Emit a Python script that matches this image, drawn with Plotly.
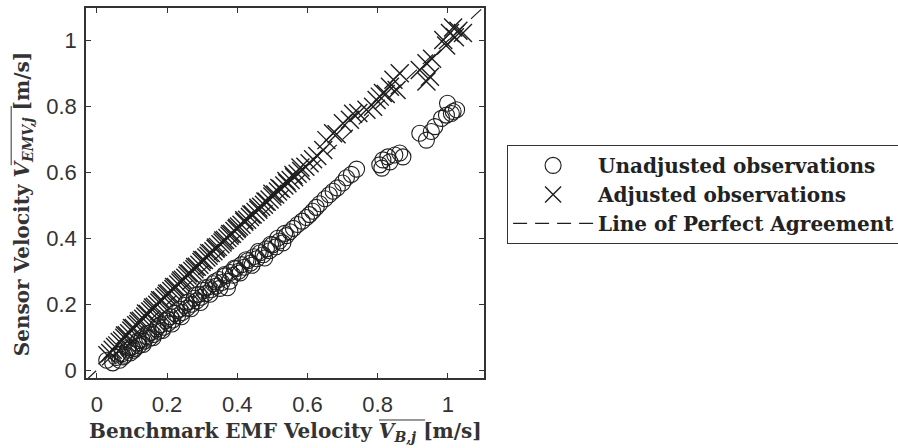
import plotly.graph_objects as go

# ---------------- data ----------------
unadj_x = [0.028, 0.045, 0.055, 0.065, 0.072, 0.080, 0.088, 0.095, 0.100, 0.108,
           0.115, 0.120, 0.128, 0.135, 0.142, 0.150, 0.155, 0.162, 0.170, 0.176,
           0.182, 0.190, 0.196, 0.203, 0.210, 0.216, 0.222, 0.230, 0.236, 0.243,
           0.250, 0.257, 0.263, 0.270, 0.277, 0.284, 0.290, 0.297, 0.303, 0.310,
           0.318, 0.325, 0.332, 0.340, 0.348, 0.356, 0.365, 0.372, 0.380, 0.388,
           0.396, 0.404, 0.412, 0.420, 0.430, 0.438, 0.447, 0.456, 0.465, 0.474,
           0.483, 0.492, 0.500, 0.510, 0.520, 0.530, 0.540, 0.550, 0.560, 0.572,
           0.585, 0.597, 0.606, 0.615, 0.625, 0.635, 0.650, 0.662, 0.673, 0.685,
           0.700, 0.711, 0.725, 0.740, 0.806, 0.812, 0.815, 0.829, 0.835, 0.849,
           0.863, 0.872, 0.920, 0.939, 0.953, 0.963, 0.982, 0.996, 0.999, 1.010,
           1.015, 1.025,
           0.060, 0.075, 0.090, 0.105, 0.118, 0.132, 0.147, 0.160, 0.173, 0.187,
           0.200, 0.214, 0.228, 0.241, 0.255, 0.268, 0.282, 0.295, 0.308, 0.322,
           0.336, 0.350, 0.364, 0.378, 0.392, 0.408, 0.425, 0.442, 0.460, 0.478,
           0.495, 0.515, 0.535]
unadj_y = [0.030, 0.022, 0.038, 0.030, 0.050, 0.045, 0.060, 0.052, 0.070, 0.066,
           0.082, 0.075, 0.092, 0.088, 0.101, 0.097, 0.115, 0.108, 0.125, 0.118,
           0.138, 0.130, 0.150, 0.142, 0.162, 0.152, 0.172, 0.165, 0.185, 0.175,
           0.196, 0.188, 0.208, 0.200, 0.218, 0.210, 0.230, 0.221, 0.242, 0.232,
           0.252, 0.244, 0.262, 0.255, 0.275, 0.266, 0.286, 0.250, 0.296, 0.288,
           0.308, 0.300, 0.320, 0.312, 0.332, 0.325, 0.344, 0.338, 0.356, 0.350,
           0.368, 0.362, 0.380, 0.374, 0.392, 0.386, 0.408, 0.420, 0.430, 0.442,
           0.452, 0.463, 0.472, 0.482, 0.494, 0.505, 0.520, 0.532, 0.543, 0.553,
           0.568, 0.584, 0.594, 0.610, 0.623, 0.613, 0.638, 0.647, 0.632, 0.653,
           0.659, 0.647, 0.719, 0.698, 0.724, 0.739, 0.764, 0.774, 0.810, 0.779,
           0.785, 0.790,
           0.048, 0.040, 0.068, 0.060, 0.090, 0.078, 0.112, 0.098, 0.132, 0.120,
           0.155, 0.140, 0.180, 0.162, 0.205, 0.186, 0.228, 0.205, 0.250, 0.230,
           0.268, 0.248, 0.290, 0.270, 0.310, 0.295, 0.335, 0.318, 0.360, 0.340,
           0.382, 0.400, 0.415]

adj_x = [0.030, 0.038, 0.045, 0.052, 0.058, 0.065, 0.072, 0.078, 0.085, 0.092,
         0.098, 0.105, 0.112, 0.118, 0.125, 0.132, 0.138, 0.145, 0.152, 0.158,
         0.165, 0.172, 0.178, 0.185, 0.192, 0.198, 0.205, 0.212, 0.218, 0.225,
         0.232, 0.238, 0.245, 0.252, 0.258, 0.265, 0.272, 0.278, 0.285, 0.292,
         0.298, 0.305, 0.312, 0.318, 0.325, 0.332, 0.338, 0.345, 0.352, 0.358,
         0.365, 0.372, 0.378, 0.385, 0.392, 0.398, 0.405, 0.412, 0.420, 0.428,
         0.436, 0.444, 0.452, 0.460, 0.468, 0.476, 0.484, 0.492, 0.500, 0.508,
         0.516, 0.525, 0.534, 0.543, 0.552, 0.562, 0.572, 0.582, 0.594, 0.606,
         0.616, 0.628, 0.645, 0.654, 0.673, 0.683, 0.701, 0.721, 0.730, 0.745,
         0.768, 0.787, 0.797, 0.806, 0.815, 0.823, 0.835, 0.845, 0.854, 0.863,
         0.920, 0.939, 0.939, 0.949, 0.955, 0.987, 0.995, 1.006, 1.015, 1.020,
         1.030, 1.043,
         0.080, 0.100, 0.120, 0.140, 0.160, 0.180, 0.200, 0.220, 0.240, 0.260,
         0.280, 0.300, 0.320, 0.340, 0.360, 0.380, 0.400, 0.420, 0.440, 0.460,
         0.480, 0.500, 0.520, 0.540, 0.560, 0.580]
adj_y = [0.045, 0.052, 0.062, 0.070, 0.075, 0.085, 0.090, 0.098, 0.106, 0.112,
         0.120, 0.128, 0.136, 0.140, 0.150, 0.156, 0.163, 0.170, 0.178, 0.183,
         0.192, 0.198, 0.205, 0.212, 0.220, 0.225, 0.233, 0.240, 0.246, 0.252,
         0.260, 0.266, 0.274, 0.280, 0.287, 0.293, 0.301, 0.306, 0.314, 0.320,
         0.328, 0.334, 0.342, 0.347, 0.355, 0.361, 0.368, 0.374, 0.382, 0.387,
         0.395, 0.401, 0.408, 0.414, 0.422, 0.428, 0.436, 0.441, 0.450, 0.456,
         0.465, 0.472, 0.480, 0.487, 0.496, 0.502, 0.511, 0.518, 0.527, 0.533,
         0.542, 0.550, 0.560, 0.567, 0.577, 0.585, 0.596, 0.604, 0.617, 0.628,
         0.640, 0.650, 0.668, 0.698, 0.719, 0.716, 0.749, 0.760, 0.778, 0.780,
         0.790, 0.799, 0.820, 0.830, 0.841, 0.838, 0.860, 0.881, 0.850, 0.901,
         0.911, 0.931, 0.876, 0.890, 0.945, 1.002, 0.985, 1.023, 1.040, 1.010,
         1.030, 1.023,
         0.105, 0.128, 0.148, 0.172, 0.190, 0.212, 0.232, 0.252, 0.272, 0.294,
         0.313, 0.334, 0.355, 0.372, 0.393, 0.413, 0.432, 0.455, 0.472, 0.493,
         0.512, 0.535, 0.553, 0.574, 0.592, 0.615]

line_x = [-0.031, 1.103]
line_y = [-0.031, 1.103]

tick_vals = [0, 0.2, 0.4, 0.6, 0.8, 1]
tick_text = ["0", "0.2", "0.4", "0.6", "0.8", "1"]

names = ["Unadjusted observations", "Adjusted observations", "Line of Perfect Agreement"]
x_title = "<b>Benchmark EMF Velocity <i>V<sub>B,j</sub></i> [m/s]</b>"
y_title = "<b>Sensor Velocity <i>V<sub>EMV,j</sub></i> [m/s]</b>"

# ---------------- figure ----------------
INK = "#1e1e1e"
SERIF = "DejaVu Serif"

fig = go.Figure()
fig.add_trace(go.Scatter(
    x=unadj_x, y=unadj_y, mode="markers", name=names[0], legendgroup="a",
    marker=dict(symbol="circle-open", size=16, color=INK, line=dict(width=1.1, color=INK)),
))
fig.add_trace(go.Scatter(
    x=adj_x, y=adj_y, mode="markers", name=names[1], legendgroup="b",
    marker=dict(symbol="x-thin-open", size=18, color=INK, line=dict(width=1.4, color=INK)),
))
fig.add_trace(go.Scatter(
    x=line_x, y=line_y, mode="lines", name=names[2], legendgroup="c",
    line=dict(color=INK, width=1.2, dash="14px,8px"),
))

axis_common = dict(
    showline=True, linecolor="#333", linewidth=1.5, mirror="ticks",
    ticks="inside", ticklen=5, tickwidth=1, tickcolor="#333",
    showgrid=False, zeroline=False,
    tickvals=tick_vals, ticktext=tick_text,
    tickfont=dict(family="Liberation Sans", size=22, color="#333"),
)

title_font = dict(family=SERIF, size=20, color="#333")

fig.update_layout(
    width=898, height=448,
    margin=dict(l=86, r=414, t=8, b=70, autoexpand=False),
    paper_bgcolor="white", plot_bgcolor="white",
    xaxis=dict(range=[-0.031, 1.103], ticklabelstandoff=6, **axis_common),
    yaxis=dict(range=[-0.024, 1.099], ticklabelstandoff=3, **axis_common),
    legend=dict(
        x=1.058, y=0.63, xanchor="left", yanchor="top",
        bordercolor="#333", borderwidth=1, bgcolor="white",
        font=dict(family=SERIF, size=20, color="#222", weight="bold"),
        itemwidth=80, traceorder="grouped", tracegroupgap=0,
    ),
    annotations=[
        dict(text=x_title, xref="paper", yref="paper", x=0.5, y=-0.146,
             xanchor="center", yanchor="middle", showarrow=False, font=title_font),
        dict(text=y_title, xref="paper", yref="paper", x=-0.158, y=0.47,
             xanchor="center", yanchor="middle", showarrow=False, textangle=-90,
             font=title_font),
    ],
    shapes=[
        dict(type="line", xref="paper", yref="paper", x0=0.736, x1=0.852,
             y0=-0.1135, y1=-0.1135, line=dict(color="#333", width=1)),
        dict(type="line", xref="paper", yref="paper", x0=-0.188, x1=-0.188,
             y0=0.735, y1=0.575, line=dict(color="#333", width=1)),
    ],
    showlegend=True,
)

fig.write_html("out.html")
